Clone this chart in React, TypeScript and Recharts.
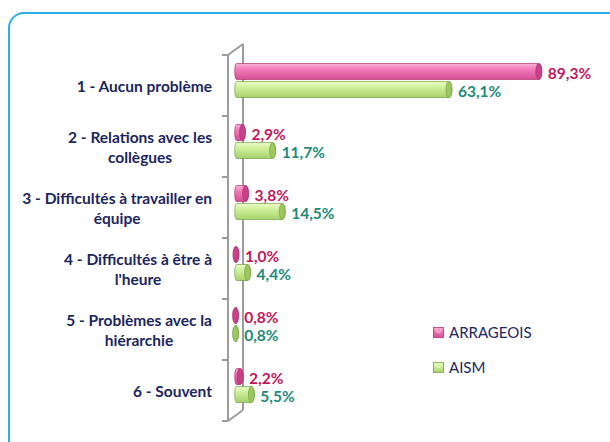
import React from 'react';
import { BarChart, Bar, XAxis, YAxis, LabelList, Legend, Customized } from 'recharts';

const categories = [
  '1 - Aucun problème',
  '2 - Relations avec les\ncollègues',
  '3 - Difficultés à travailler en\néquipe',
  '4 - Difficultés à être à\nl\'heure',
  '5 - Problèmes avec la\nhiérarchie',
  '6 - Souvent',
];
const arrageois = [89.3, 2.9, 3.8, 1.0, 0.8, 2.2];
const aism = [63.1, 11.7, 14.5, 4.4, 0.8, 5.5];

const data = categories.map((name, i) => ({ name, arrageois: arrageois[i], aism: aism[i] }));

// layout of the 3D wall
const W = 610;
const H = 442;
const MARGIN = { top: 55, right: 39, bottom: 21, left: 0 };
const AXIS_W = 228;
const TICK_MARGIN = 16;
const DEPTH_X = 15;
const DEPTH_Y = -11;
const WALL = '#9c9c9c';
const WALL_W = 2;
const FONT = "Lato, 'Liberation Sans', sans-serif";

const SERIES = {
  arrageois: { label: 'ARRAGEOIS', grad: 'gradPink', cap: '#c8408a', stroke: '#b3326f', text: '#c2185b' },
  aism: { label: 'AISM', grad: 'gradGreen', cap: '#9cc760', stroke: '#74a045', text: '#1d8b78' },
};

const fmt = (v: number) => v.toFixed(1).replace('.', ',') + '%';

function Cylinder(props: any) {
  const { x, y, width, height, series } = props;
  const s = SERIES[series as keyof typeof SERIES];
  const x0 = x + DEPTH_X / 2;
  const y0 = y + DEPTH_Y / 2;
  const rx = 3;
  const ry = height / 2;
  const x1 = x0 + Math.max(width - rx, 0);
  const d = `M${x0 + 1},${y0} L${x1},${y0} A${rx},${ry} 0 0 1 ${x1},${y0 + height} L${x0 + 1},${y0 + height} A${rx * 0.6},${ry} 0 0 1 ${x0 + 1},${y0} Z`;
  return (
    <g>
      <path d={d} fill={`url(#${s.grad})`} stroke={s.stroke} strokeWidth={0.7} />
      <ellipse cx={x1} cy={y0 + ry} rx={rx} ry={ry} fill={s.cap} stroke={s.stroke} strokeWidth={0.7} />
    </g>
  );
}

function ValueLabel(props: any) {
  const { x, y, width, height, value, series } = props;
  const s = SERIES[series as keyof typeof SERIES];
  return (
    <text
      x={x + width + DEPTH_X / 2 + 6}
      y={y + height / 2 + DEPTH_Y / 2 + 1}
      fill={s.text}
      fontSize={15.5}
      fontWeight="bold"
      fontFamily={FONT}
      dominantBaseline="central"
    >
      {fmt(Number(value))}
    </text>
  );
}

// label block plus the boundary tick marks of the band
function CategoryTick(props: any) {
  const { x, y, payload, index, visibleTicksCount } = props;
  const lines = String(payload.value).split('\n');
  const half = payload.offset || 0;
  const ax = x + TICK_MARGIN;
  const isLast = index === (visibleTicksCount ?? categories.length) - 1;
  return (
    <g>
      <line x1={ax - 6} y1={y - half} x2={ax} y2={y - half} stroke={WALL} strokeWidth={WALL_W} />
      {isLast && <line x1={ax - 6} y1={y + half} x2={ax} y2={y + half} stroke={WALL} strokeWidth={WALL_W} />}
      <foreignObject x={x - 225} y={y - 30} width={225} height={60}>
        <div
          style={{
            height: 60,
            display: 'flex',
            alignItems: 'center',
            justifyContent: 'flex-end',
            fontFamily: FONT,
            fontWeight: 'bold',
            fontSize: 15.5,
            lineHeight: '20px',
            color: '#1c2660',
          }}
        >
          <div style={{ textAlign: 'center' }}>
            {lines.map((l, i) => (
              <div key={i} style={{ whiteSpace: 'nowrap' }}>{l}</div>
            ))}
          </div>
        </div>
      </foreignObject>
    </g>
  );
}

function Wall() {
  const fx = MARGIN.left + AXIS_W;
  const top = MARGIN.top;
  const bottom = H - MARGIN.bottom;
  const bx = fx + DEPTH_X;
  return (
    <g stroke={WALL} strokeWidth={WALL_W} fill="none">
      <line x1={fx} y1={top} x2={bx} y2={top + DEPTH_Y} />
      <line x1={bx} y1={top + DEPTH_Y} x2={bx} y2={bottom + DEPTH_Y} />
      <line x1={fx} y1={bottom} x2={bx} y2={bottom + DEPTH_Y} />
    </g>
  );
}

function LegendBox() {
  const items = [SERIES.arrageois, SERIES.aism];
  return (
    <div style={{ fontFamily: FONT, fontSize: 15, color: '#1c2660' }}>
      {items.map((s, i) => (
        <div key={s.label} style={{ display: 'flex', alignItems: 'center', height: 20, marginBottom: i === 0 ? 15 : 0 }}>
          <svg width={11} height={11} style={{ marginRight: 5 }}>
            <rect x={0.5} y={0.5} width={10} height={10} fill={`url(#${s.grad})`} stroke={s.stroke} strokeWidth={0.8} />
            <path d="M3,3 L5.5,6 L8,3" fill="none" stroke="#ffffff" strokeOpacity={0.6} strokeWidth={1} />
          </svg>
          <span>{s.label}</span>
        </div>
      ))}
    </div>
  );
}

export default function App() {
  return (
    <div style={{ position: 'absolute', left: 0, top: 0, width: W, height: H, background: '#fff', overflow: 'hidden' }}>
      <div
        style={{
          position: 'absolute',
          left: 8,
          top: 12,
          width: 640,
          height: 480,
          border: '2px solid #2caee8',
          borderRadius: 16,
        }}
      />
      <div style={{ position: 'absolute', left: 0, top: 0 }}>
        <BarChart width={W} height={H} data={data} layout="vertical" margin={MARGIN} barSize={16} barGap={2}>
          <defs>
            <linearGradient id="gradPink" x1="0" y1="0" x2="0" y2="1">
              <stop offset="0%" stopColor="#f9b3d6" />
              <stop offset="35%" stopColor="#f27cba" />
              <stop offset="100%" stopColor="#d24f93" />
            </linearGradient>
            <linearGradient id="gradGreen" x1="0" y1="0" x2="0" y2="1">
              <stop offset="0%" stopColor="#ecfcc8" />
              <stop offset="35%" stopColor="#d0f19c" />
              <stop offset="100%" stopColor="#a8d06c" />
            </linearGradient>
          </defs>
          <XAxis type="number" domain={[0, 100]} hide />
          <YAxis
            type="category"
            dataKey="name"
            width={AXIS_W}
            axisLine={{ stroke: WALL, strokeWidth: WALL_W }}
            tickLine={false}
            tickSize={0}
            tickMargin={TICK_MARGIN}
            interval={0}
            tick={<CategoryTick />}
          />
          <Customized component={<Wall />} />
          <Bar dataKey="arrageois" isAnimationActive={false} shape={<Cylinder series="arrageois" />}>
            <LabelList dataKey="arrageois" content={<ValueLabel series="arrageois" />} />
          </Bar>
          <Bar dataKey="aism" isAnimationActive={false} shape={<Cylinder series="aism" />}>
            <LabelList dataKey="aism" content={<ValueLabel series="aism" />} />
          </Bar>
          <Legend
            layout="horizontal"
            verticalAlign="middle"
            align="center"
            content={<LegendBox />}
            wrapperStyle={{ position: 'absolute', left: 433, top: 322, width: 140 }}
          />
        </BarChart>
      </div>
    </div>
  );
}
